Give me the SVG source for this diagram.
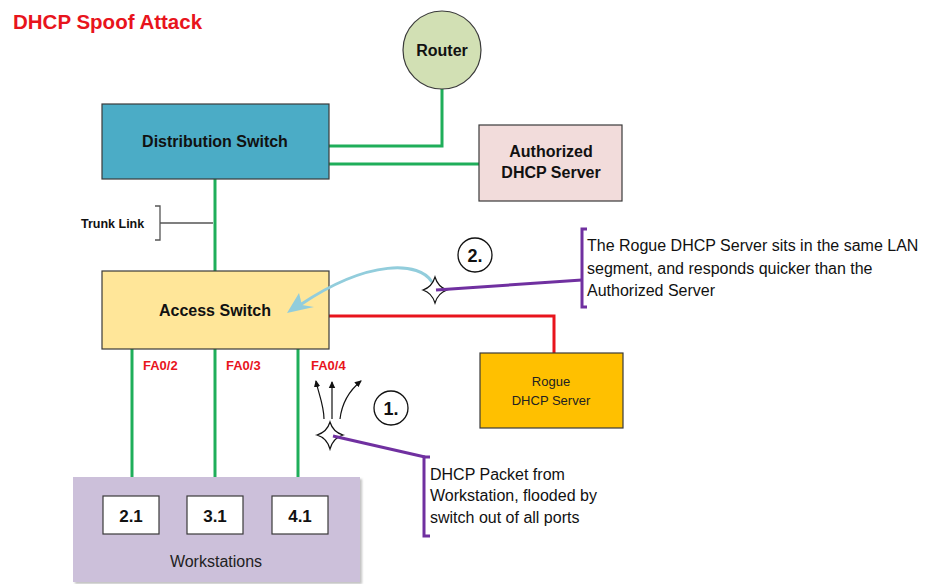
<svg xmlns="http://www.w3.org/2000/svg" width="937" height="584" viewBox="0 0 937 584">
<style>
text{font-family:"Liberation Sans",Arial,sans-serif}
.b{font-weight:bold;fill:#111}
.node{stroke:#3a3a3a;stroke-width:1.2}
.g{stroke:#1fae5a;stroke-width:3;fill:none}
.port{fill:#e8141c;font-weight:bold;font-size:13px}
.note{font-size:16px;fill:#111}
.pur{stroke:#7030a0;stroke-width:3;fill:none}
</style>
<defs>
<marker id="ah" markerWidth="8" markerHeight="8" refX="6" refY="4" orient="auto" markerUnits="userSpaceOnUse">
<path d="M0,0.8 L7,4 L0,7.2 Z" fill="#111"/>
</marker>
<filter id="sh" x="-5%" y="-5%" width="110%" height="110%">
<feDropShadow dx="2" dy="2" stdDeviation="1" flood-color="#999" flood-opacity="0.6"/>
</filter>
</defs>
<rect width="937" height="584" fill="#fff"/>
<text x="13" y="29" font-size="20.5" font-weight="bold" fill="#e8141c">DHCP Spoof Attack</text>

<g id="connectors">
<path class="g" d="M442,89 V146 H329"/>
<path class="g" d="M329,164 H479"/>
<path class="g" d="M215,179 V271"/>
<path class="g" d="M132,349 V496"/>
<path class="g" d="M215,349 V496"/>
<path class="g" d="M298,349 V496"/>
<path d="M329,316 H554 V353" stroke="#e8141c" stroke-width="3" fill="none"/>
<path d="M155,206 H160 V240 H155 M160,223 H213" stroke="#555" stroke-width="1.3" fill="none"/>
</g>

<g id="workstations">
<rect x="73" y="477" width="287" height="105" fill="#ccc0da" filter="url(#sh)"/>
<text x="216" y="567" font-size="16" text-anchor="middle" fill="#222">Workstations</text>
</g>
<g id="ws21"><rect class="node" x="103" y="496" width="56" height="38" fill="#fff"/><text class="b" x="131" y="522" font-size="17" text-anchor="middle">2.1</text></g>
<g id="ws31"><rect class="node" x="187" y="496" width="56" height="38" fill="#fff"/><text class="b" x="215" y="522" font-size="17" text-anchor="middle">3.1</text></g>
<g id="ws41"><rect class="node" x="272" y="496" width="56" height="38" fill="#fff"/><text class="b" x="300" y="522" font-size="17" text-anchor="middle">4.1</text></g>

<g id="router">
<circle class="node" cx="442" cy="50" r="39" fill="#d2e0b4"/>
<text class="b" x="442" y="56" font-size="16" text-anchor="middle">Router</text>
</g>
<g id="distribution">
<rect class="node" x="102" y="104" width="227" height="75" fill="#4bacc6"/>
<text class="b" x="215" y="147" font-size="16" text-anchor="middle">Distribution Switch</text>
</g>
<g id="authorized">
<rect class="node" x="479" y="125" width="143" height="76" fill="#f2dcdb"/>
<text class="b" x="551" y="157" font-size="16" text-anchor="middle">Authorized</text>
<text class="b" x="551" y="178" font-size="16" text-anchor="middle">DHCP Server</text>
</g>
<g id="access">
<rect class="node" x="102" y="271" width="227" height="78" fill="#ffe699"/>
<text class="b" x="215" y="316" font-size="16" text-anchor="middle">Access Switch</text>
</g>
<g id="rogue">
<rect class="node" x="480" y="353" width="143" height="75" fill="#ffc000"/>
<text x="551" y="386" font-size="13" text-anchor="middle" fill="#222">Rogue</text>
<text x="551" y="405" font-size="13" text-anchor="middle" fill="#222">DHCP Server</text>
</g>

<g id="trunk-label"><text class="b" x="81" y="228" font-size="12.5">Trunk Link</text></g>

<g id="ports">
<text class="port" x="143" y="370">FA0/2</text>
<text class="port" x="226" y="370">FA0/3</text>
<text class="port" x="311" y="370">FA0/4</text>
</g>

<g id="step2">
<circle cx="475" cy="255" r="17" fill="#fff" stroke="#111" stroke-width="1.3"/>
<text class="b" x="475" y="262" font-size="18" text-anchor="middle">2.</text>
<path d="M432,282 C420,262 370,258 300,305" stroke="#92cddc" stroke-width="3" fill="none"/>
<path d="M287,313 L299,293 L302,305 L314,307 Z" fill="#92cddc"/>
<path d="M435,277 Q438,287 447,290 Q438,293 435,303 Q432,293 423,290 Q432,287 435,277 Z" fill="#fff" stroke="#111" stroke-width="1.2"/>
<path class="pur" d="M436,290 L582,280"/>
<path class="pur" d="M587,229 H582 V307 H587"/>
<text class="note" x="587" y="251">The Rogue DHCP Server sits in the same LAN</text>
<text class="note" x="587" y="274">segment, and responds quicker than the</text>
<text class="note" x="587" y="296">Authorized Server</text>
</g>

<g id="step1">
<circle cx="391" cy="408" r="17" fill="#fff" stroke="#111" stroke-width="1.3"/>
<text class="b" x="391" y="415" font-size="18" text-anchor="middle">1.</text>
<path d="M330,422 Q333,432 343,435 Q333,438 330,449 Q327,438 317,435 Q327,432 330,422 Z" fill="#fff" stroke="#111" stroke-width="1.2"/>
<path d="M324,419 C324,405 318,392 316,381" stroke="#111" stroke-width="1.2" fill="none" marker-end="url(#ah)"/>
<path d="M332,419 V382" stroke="#111" stroke-width="1.2" fill="none" marker-end="url(#ah)"/>
<path d="M340,419 C342,402 350,390 361,381" stroke="#111" stroke-width="1.2" fill="none" marker-end="url(#ah)"/>
<path class="pur" d="M333,436 L425,457"/>
<path class="pur" d="M430,457 H424 V536 H430"/>
<text class="note" x="430" y="480">DHCP Packet from</text>
<text class="note" x="430" y="501">Workstation, flooded by</text>
<text class="note" x="430" y="523">switch out of all ports</text>
</g>
</svg>
